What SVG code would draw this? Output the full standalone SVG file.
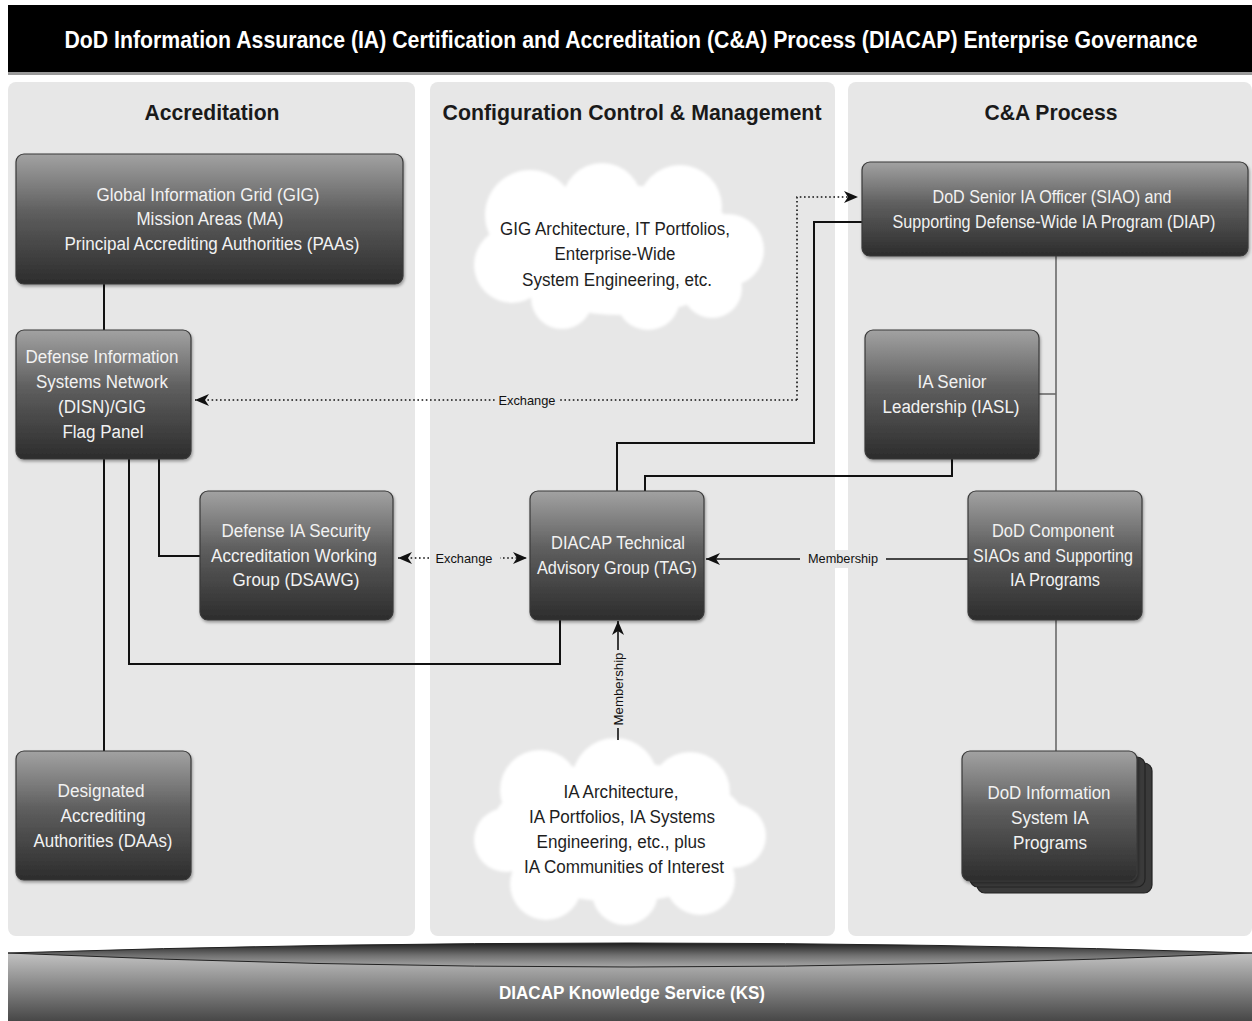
<svg xmlns="http://www.w3.org/2000/svg" width="1252" height="1021" viewBox="0 0 1252 1021">
<style>
text{font-family:"Liberation Sans",Arial,sans-serif}
.title{font-size:20px;font-weight:bold;fill:#fff;text-anchor:middle}
.hdr{font-size:22px;font-weight:bold;fill:#1a1a1a;text-anchor:middle}
.nt{font-size:18px;fill:#f2f2f2;text-anchor:middle}
.ct{font-size:18px;fill:#1e1e1e;text-anchor:middle}
.lbl{font-size:13px;fill:#111;text-anchor:middle}
.ks{font-size:18px;font-weight:bold;fill:#fff;text-anchor:middle}
.panel{fill:#e7e7e7}
.node{fill:url(#ng);stroke:#3a3a3a;stroke-width:1.2;filter:url(#sh)}
.back{fill:#3a3a3a;stroke:#222;stroke-width:1.2}
.solid{fill:none;stroke:#111;stroke-width:2}
.grey{fill:none;stroke:#6a6a6a;stroke-width:1.6}
.dot{fill:none;stroke:#111;stroke-width:1.6;stroke-dasharray:1.6 2.6}
.cloud{fill:#fff;filter:url(#blur)}
</style>
<defs>
<linearGradient id="ng" x1="0" y1="0" x2="0" y2="1">
<stop offset="0" stop-color="#a2a2a2"/>
<stop offset="0.45" stop-color="#5e5e5e"/>
<stop offset="1" stop-color="#2c2c2c"/>
</linearGradient>
<linearGradient id="kg" x1="0" y1="0" x2="0" y2="1">
<stop offset="0" stop-color="#c2c2c2"/>
<stop offset="1" stop-color="#474747"/>
</linearGradient>
<linearGradient id="lg" x1="0" y1="0" x2="0" y2="1">
<stop offset="0" stop-color="#1e1e1e"/>
<stop offset="0.5" stop-color="#6e6e6e"/>
<stop offset="1" stop-color="#a8a8a8"/>
</linearGradient>
<filter id="sh" x="-10%" y="-10%" width="120%" height="125%">
<feDropShadow dx="1" dy="2" stdDeviation="1.5" flood-color="#000" flood-opacity="0.35"/>
</filter>
<filter id="blur" x="-10%" y="-10%" width="120%" height="120%">
<feGaussianBlur stdDeviation="1.5"/>
</filter>
<marker id="ah" markerUnits="userSpaceOnUse" markerWidth="14" markerHeight="12" refX="14" refY="6" orient="auto-start-reverse">
<path d="M0,0 L14,6 L0,12 L4,6 Z" fill="#111"/>
</marker>
</defs>

<rect width="1252" height="1021" fill="#fff"/>

<g id="title-bar">
<rect x="8" y="5" width="1244" height="67" fill="#000"/>
<rect x="8" y="72" width="1244" height="3" fill="#9a9a9a"/>
<text class="title" x="631" y="40" transform="scale(1,1.2)" textLength="1133" lengthAdjust="spacingAndGlyphs">DoD Information Assurance (IA) Certification and Accreditation (C&amp;A) Process (DIACAP) Enterprise Governance</text>
</g>

<g id="panels">
<rect class="panel" x="8" y="82" width="407" height="854" rx="8"/>
<rect class="panel" x="430" y="82" width="405" height="854" rx="8"/>
<rect class="panel" x="848" y="82" width="404" height="854" rx="8"/>
<text class="hdr" x="212" y="120" textLength="135" lengthAdjust="spacingAndGlyphs">Accreditation</text>
<text class="hdr" x="632" y="120" textLength="379" lengthAdjust="spacingAndGlyphs">Configuration Control &amp; Management</text>
<text class="hdr" x="1051" y="120" textLength="133" lengthAdjust="spacingAndGlyphs">C&amp;A Process</text>
</g>

<g id="clouds">
<g id="cloud-gig">
<g class="cloud">
<ellipse cx="620" cy="250" rx="125" ry="65"/>
<circle cx="530" cy="215" r="45"/>
<circle cx="602" cy="203" r="40"/>
<circle cx="680" cy="207" r="42"/>
<circle cx="728" cy="250" r="36"/>
<circle cx="512" cy="265" r="38"/>
<circle cx="562" cy="298" r="31"/>
<circle cx="648" cy="298" r="32"/>
<circle cx="712" cy="288" r="30"/>
</g>
<text class="ct" x="615" y="235" textLength="230" lengthAdjust="spacingAndGlyphs">GIG Architecture, IT Portfolios,</text>
<text class="ct" x="615" y="260" textLength="121" lengthAdjust="spacingAndGlyphs">Enterprise-Wide</text>
<text class="ct" x="617" y="286" textLength="190" lengthAdjust="spacingAndGlyphs">System Engineering, etc.</text>
</g>
<g id="cloud-ia">
<g class="cloud">
<ellipse cx="620" cy="832" rx="130" ry="70"/>
<circle cx="540" cy="790" r="40"/>
<circle cx="615" cy="781" r="43"/>
<circle cx="690" cy="792" r="40"/>
<circle cx="734" cy="836" r="32"/>
<circle cx="506" cy="840" r="32"/>
<circle cx="546" cy="884" r="36"/>
<circle cx="625" cy="892" r="33"/>
<circle cx="700" cy="880" r="35"/>
</g>
<text class="ct" x="621" y="798" textLength="115" lengthAdjust="spacingAndGlyphs">IA Architecture,</text>
<text class="ct" x="622" y="823" textLength="186" lengthAdjust="spacingAndGlyphs">IA Portfolios, IA Systems</text>
<text class="ct" x="621" y="848" textLength="169" lengthAdjust="spacingAndGlyphs">Engineering, etc., plus</text>
<text class="ct" x="624" y="873" textLength="200" lengthAdjust="spacingAndGlyphs">IA Communities of Interest</text>
</g>
</g>

<g id="connectors">
<path class="solid" d="M104,284 V330"/>
<path class="solid" d="M104,459 V751"/>
<path class="solid" d="M159,459 V556 H200"/>
<path class="solid" d="M129,459 V664 H560 V620"/>
<path class="solid" d="M617,491 V443 H814 V222 H862"/>
<path class="solid" d="M645,491 V476 H952 V459"/>
<path class="grey" d="M1056,256 V491"/>
<path class="grey" d="M1056,620 V751"/>
<path class="grey" d="M1039,394 H1056"/>
<path class="dot" d="M797,400 H195" marker-end="url(#ah)"/>
<path class="dot" d="M797,400 V197 H858" marker-end="url(#ah)"/>
<rect x="496" y="391" width="62" height="18" fill="#e7e7e7"/>
<text class="lbl" x="527" y="405" textLength="57" lengthAdjust="spacingAndGlyphs">Exchange</text>
<path class="dot" d="M398,558 H527" marker-start="url(#ah)" marker-end="url(#ah)"/>
<rect x="430" y="549" width="70" height="18" fill="#e7e7e7"/>
<text class="lbl" x="464" y="563" textLength="57" lengthAdjust="spacingAndGlyphs">Exchange</text>
<path class="solid" d="M968,559 H706" marker-end="url(#ah)" style="stroke-width:1.6"/>
<rect x="800" y="550" width="86" height="18" fill="#e7e7e7"/>
<text class="lbl" x="843" y="563" textLength="70" lengthAdjust="spacingAndGlyphs">Membership</text>
<path class="solid" d="M618,740 V621" marker-end="url(#ah)" style="stroke-width:1.6"/>
<rect x="609" y="650" width="18" height="78" fill="#e7e7e7"/>
<text class="lbl" x="0" y="0" transform="translate(623,689) rotate(-90)" textLength="73" lengthAdjust="spacingAndGlyphs">Membership</text>
</g>

<g id="node-gig">
<rect class="node" x="16" y="154" width="387" height="130" rx="8"/>
<text class="nt" x="208" y="201" textLength="223" lengthAdjust="spacingAndGlyphs">Global Information Grid (GIG)</text>
<text class="nt" x="210" y="225" textLength="147" lengthAdjust="spacingAndGlyphs">Mission Areas (MA)</text>
<text class="nt" x="212" y="250" textLength="295" lengthAdjust="spacingAndGlyphs">Principal Accrediting Authorities (PAAs)</text>
</g>

<g id="node-disn">
<rect class="node" x="16" y="330" width="175" height="129" rx="8"/>
<text class="nt" x="102" y="363" textLength="153" lengthAdjust="spacingAndGlyphs">Defense Information</text>
<text class="nt" x="102" y="388" textLength="132" lengthAdjust="spacingAndGlyphs">Systems Network</text>
<text class="nt" x="102" y="413" textLength="88" lengthAdjust="spacingAndGlyphs">(DISN)/GIG</text>
<text class="nt" x="103" y="438" textLength="81" lengthAdjust="spacingAndGlyphs">Flag Panel</text>
</g>

<g id="node-dsawg">
<rect class="node" x="200" y="491" width="193" height="129" rx="8"/>
<text class="nt" x="296" y="537" textLength="149" lengthAdjust="spacingAndGlyphs">Defense IA Security</text>
<text class="nt" x="294" y="562" textLength="166" lengthAdjust="spacingAndGlyphs">Accreditation Working</text>
<text class="nt" x="296" y="586" textLength="127" lengthAdjust="spacingAndGlyphs">Group (DSAWG)</text>
</g>

<g id="node-daa">
<rect class="node" x="16" y="751" width="175" height="129" rx="8"/>
<text class="nt" x="101" y="797" textLength="87" lengthAdjust="spacingAndGlyphs">Designated</text>
<text class="nt" x="103" y="822" textLength="85" lengthAdjust="spacingAndGlyphs">Accrediting</text>
<text class="nt" x="103" y="847" textLength="139" lengthAdjust="spacingAndGlyphs">Authorities (DAAs)</text>
</g>

<g id="node-tag">
<rect class="node" x="530" y="491" width="174" height="129" rx="8"/>
<text class="nt" x="618" y="549" textLength="134" lengthAdjust="spacingAndGlyphs">DIACAP Technical</text>
<text class="nt" x="617" y="574" textLength="160" lengthAdjust="spacingAndGlyphs">Advisory Group (TAG)</text>
</g>

<g id="node-siao">
<rect class="node" x="862" y="162" width="386" height="94" rx="8"/>
<text class="nt" x="1052" y="203" textLength="239" lengthAdjust="spacingAndGlyphs">DoD Senior IA Officer (SIAO) and</text>
<text class="nt" x="1054" y="228" textLength="323" lengthAdjust="spacingAndGlyphs">Supporting Defense-Wide IA Program (DIAP)</text>
</g>

<g id="node-iasl">
<rect class="node" x="865" y="330" width="174" height="129" rx="8"/>
<text class="nt" x="952" y="388" textLength="69" lengthAdjust="spacingAndGlyphs">IA Senior</text>
<text class="nt" x="951" y="413" textLength="137" lengthAdjust="spacingAndGlyphs">Leadership (IASL)</text>
</g>

<g id="node-component">
<rect class="node" x="968" y="491" width="174" height="129" rx="8"/>
<text class="nt" x="1053" y="537" textLength="122" lengthAdjust="spacingAndGlyphs">DoD Component</text>
<text class="nt" x="1053" y="562" textLength="160" lengthAdjust="spacingAndGlyphs">SIAOs and Supporting</text>
<text class="nt" x="1055" y="586" textLength="90" lengthAdjust="spacingAndGlyphs">IA Programs</text>
</g>

<g id="node-dodis">
<rect class="back" x="977" y="763" width="175" height="130" rx="8"/>
<rect class="back" x="970" y="757" width="175" height="130" rx="8"/>
<rect class="node" x="962" y="751" width="175" height="130" rx="8"/>
<text class="nt" x="1049" y="799" textLength="123" lengthAdjust="spacingAndGlyphs">DoD Information</text>
<text class="nt" x="1050" y="824" textLength="78" lengthAdjust="spacingAndGlyphs">System IA</text>
<text class="nt" x="1050" y="849" textLength="74" lengthAdjust="spacingAndGlyphs">Programs</text>
</g>

<g id="ks-bar">
<rect x="8" y="953" width="1244" height="68" fill="url(#kg)"/>
<path d="M8,953 Q630,933 1252,953 Q630,981 8,953 Z" fill="url(#lg)" stroke="#222" stroke-width="1"/>
<text class="ks" x="632" y="999" textLength="266" lengthAdjust="spacingAndGlyphs">DIACAP Knowledge Service (KS)</text>
</g>
</svg>
